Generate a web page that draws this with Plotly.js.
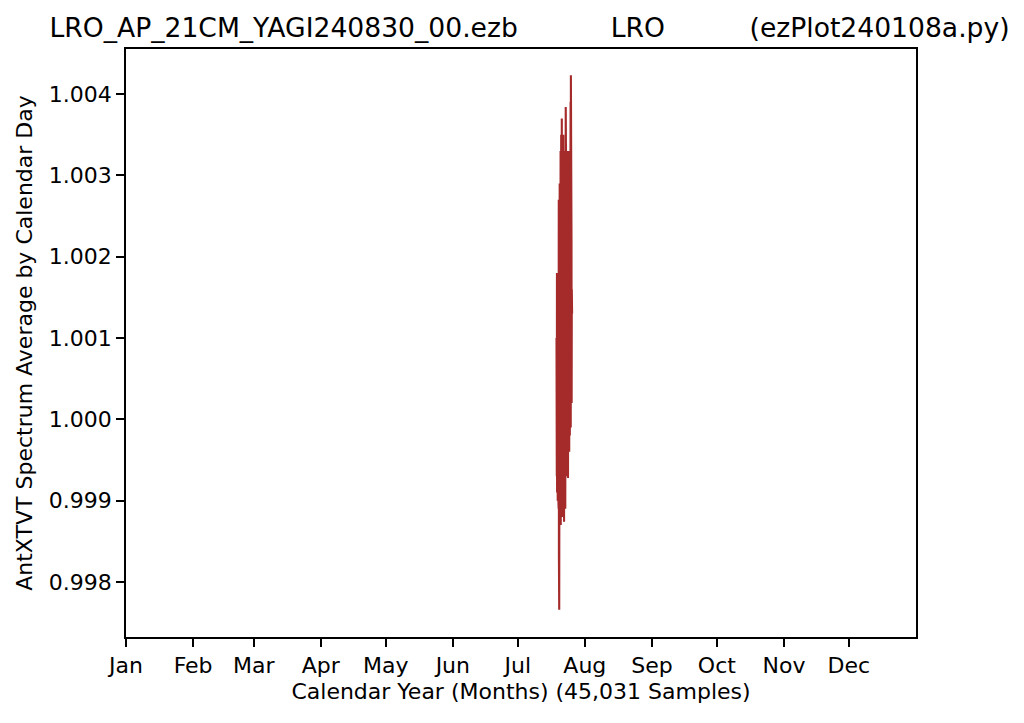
<!DOCTYPE html>
<html>
<head>
<meta charset="utf-8">
<script src="https://cdn.plot.ly/plotly-3.0.1.min.js"></script>
<style>html,body{margin:0;padding:0;background:#fff;}#chart{width:1024px;height:723px;}</style>
</head>
<body>
<div id="chart"></div>
<script>
// Day of year (x) and AntXTVT spectrum average (y)
const dayOfYear = [199.90,199.97,200.04,200.11,200.18,200.25,200.32,200.39,200.46,200.53,200.60,200.67,200.74,200.81,200.88,200.95,201.02,201.09,201.16,201.23,201.30,201.37,201.44,201.51,201.58,201.65,201.72,201.79,201.86,201.93,202.00,202.07,202.14,202.21,202.28,202.35,202.42,202.49,202.56,202.63,202.70,202.77,202.84,202.91,202.98,203.05,203.12,203.19,203.26,203.33,203.40,203.47,203.54,203.61,203.68,203.75,203.82,203.89,203.96,204.03,204.10,204.17,204.24,204.31,204.38,204.45,204.52,204.59,204.66,204.73,204.80,204.87,204.94,205.01,205.08,205.15,205.22,205.29,205.36,205.43,205.50,205.57,205.64,205.71,205.78,205.85,205.92,205.99,206.06,206.13,206.20,206.27,206.34,206.41,206.48,206.55,206.62,206.69,206.76,206.83,206.90,206.97,207.04,207.11];
const spectrumAvg = [1.0010,1.0017,0.9993,1.0018,0.9991,1.0012,0.9994,1.0016,0.9990,1.0009,0.9992,1.0021,0.9993,1.0024,0.9989,1.0027,0.9983,1.0026,0.99766,1.0023,0.9986,1.0029,0.9990,1.0031,0.9988,1.0030,0.9991,1.0033,0.9987,1.0031,0.9990,1.0035,0.9989,1.0032,0.9991,1.0037,0.9988,1.0034,0.9990,1.0030,0.9989,1.0034,0.9991,1.0032,0.9988,1.0035,0.9990,1.0031,0.9989,1.0033,0.99874,1.0030,0.9990,1.0033,0.9992,1.0029,0.9991,1.0032,0.9989,1.0034,0.9992,1.00384,0.9990,1.0031,0.9993,1.0029,0.9994,1.0033,0.9993,1.0030,0.9995,1.0032,0.9994,1.0028,0.9996,1.0031,0.99928,1.0029,0.9996,1.0033,0.9995,1.0027,0.9997,1.0030,0.9996,1.0026,0.9999,1.0029,0.9998,1.0031,0.9999,1.0035,1.0001,1.0039,0.9999,1.00423,1.0002,1.0030,1.0004,1.0022,1.0002,1.0016,1.0005,1.0013];

const monthStartDays = [1,32,60,91,121,152,182,213,244,274,305,335];
const monthLabels = ['Jan','Feb','Mar','Apr','May','Jun','Jul','Aug','Sep','Oct','Nov','Dec'];
const yTickVals = [0.998,0.999,1.000,1.001,1.002,1.003,1.004];
const yTickText = ['0.998','0.999','1.000','1.001','1.002','1.003','1.004'];

const titleFile = 'LRO_AP_21CM_YAGI240830_00.ezb';
const titleSite = 'LRO';
const titleProg = '(ezPlot240108a.py)';
const xTitle = 'Calendar Year (Months) (45,031 Samples)';
const yTitle = 'AntXTVT Spectrum Average by Calendar Day';

const nb = n => '\u00a0'.repeat(n);
const FONT = 'DejaVu Sans, Verdana, sans-serif';

const trace = {
  x: dayOfYear, y: spectrumAvg, type: 'scatter', mode: 'lines',
  line: {color: '#a52a2a', width: 2.1}, hoverinfo: 'skip', showlegend: false
};

const axisCommon = {
  showgrid: false, zeroline: false, showline: true, mirror: true,
  linecolor: '#000', linewidth: 1.8, ticks: 'outside', ticklen: 8,
  tickwidth: 1.8, tickcolor: '#000',
  tickfont: {family: FONT, size: 22, color: '#000'}
};

const layout = {
  width: 1024, height: 723,
  margin: {l: 126, r: 108, t: 49, b: 86, pad: 0},
  paper_bgcolor: '#fff', plot_bgcolor: '#fff',
  title: {
    text: titleFile + nb(11) + titleSite + nb(10) + titleProg,
    font: {family: FONT, size: 26.6, color: '#000'},
    xref: 'paper', x: 0.5108, xanchor: 'center',
    yref: 'container', y: 1 - 28/723, yanchor: 'middle'
  },
  xaxis: Object.assign({}, axisCommon, {
    range: [1, 366], tickmode: 'array', tickvals: monthStartDays, ticktext: monthLabels,
    title: {text: xTitle, font: {family: FONT, size: 22, color: '#000'}, standoff: 6}
  }),
  yaxis: Object.assign({}, axisCommon, {
    range: [0.997324, 1.004553], tickmode: 'array', tickvals: yTickVals, ticktext: yTickText,
    title: {text: yTitle, font: {family: FONT, size: 22, color: '#000'}, standoff: 10}
  })
};

Plotly.newPlot('chart', [trace], layout, {staticPlot: true, displayModeBar: false});
</script>
</body>
</html>
